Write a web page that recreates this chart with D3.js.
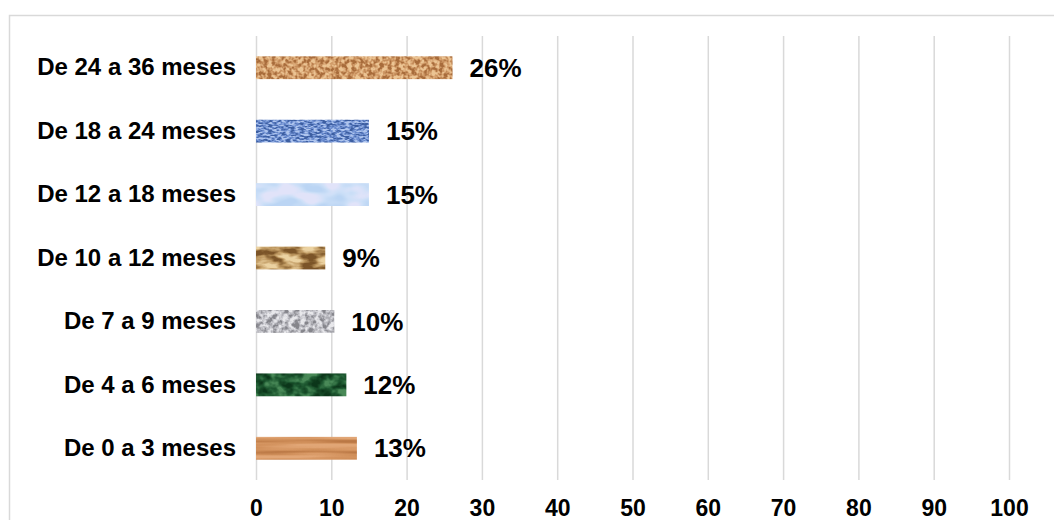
<!DOCTYPE html>
<html>
<head>
<meta charset="utf-8">
<script src="https://cdn.jsdelivr.net/npm/d3@7"></script>
<style>
    body { margin: 0; background: #fff; }
    svg { display: block; font-family: Arial, 'Liberation Sans', sans-serif; }
</style>
</head>
<body>
<svg id="chart"></svg>
<script>
// Data (top to bottom as drawn)
const categories = ['De 24 a 36 meses', 'De 18 a 24 meses', 'De 12 a 18 meses', 'De 10 a 12 meses',
    'De 7 a 9 meses', 'De 4 a 6 meses', 'De 0 a 3 meses'];
const values = [26.1, 15, 15, 9.2, 10.4, 12, 13.4];
const xTicks = [0, 10, 20, 30, 40, 50, 60, 70, 80, 90, 100];

// texture ramps for each bar: [dark, mid, light], noise frequency, octaves
const textures = [
    {ramp: ['#a86c3c', '#d19b68', '#ecc494'], freq: '0.25 0.25', oct: 3},
    {ramp: ['#3e5fa2', '#6f90d2', '#b0c6ee'], freq: '0.22 0.55', oct: 2},
    {ramp: ['#bcd6f4', '#cde0f8', '#e2e4fa'], freq: '0.04 0.08', oct: 2},
    {ramp: ['#7c5528', '#c09a62', '#ecd2a2'], freq: '0.05 0.12', oct: 3},
    {ramp: ['#85858c', '#bcbcc2', '#e8e8ec'], freq: '0.18 0.18', oct: 3},
    {ramp: ['#0c361a', '#1f5a32', '#4a8a58'], freq: '0.07 0.09', oct: 3},
    {ramp: ['#bb7845', '#d2915c', '#e2a676'], freq: '0.008 0.2', oct: 2}
];

const W = 1054, H = 520;
const svg = d3.select('#chart').attr('width', W).attr('height', H);

// chart frame
svg.append('rect')
    .attr('x', 9.5).attr('y', 15.5)
    .attr('width', 1100).attr('height', 600)
    .attr('fill', 'none')
    .attr('stroke', '#d9d9d9')
    .attr('stroke-width', 1.5);

const plot = {left: 256, right: 1009, top: 36, bottom: 480};

const x = d3.scaleLinear().domain([0, 100]).range([plot.left, plot.right]);
const y = d3.scaleBand().domain(categories)
    .range([plot.top, plot.bottom])
    .paddingInner(0.64).paddingOuter(0.32);

// texture filters
const defs = svg.append('defs');
textures.forEach((t, i) => {
    const f = defs.append('filter').attr('id', 'tex' + i)
        .attr('x', 0).attr('y', 0).attr('width', 1).attr('height', 1)
        .attr('color-interpolation-filters', 'sRGB');
    f.append('feTurbulence')
        .attr('type', 'fractalNoise')
        .attr('baseFrequency', t.freq)
        .attr('numOctaves', t.oct)
        .attr('seed', i * 7 + 3)
        .attr('result', 'noise');
    f.append('feColorMatrix')
        .attr('in', 'noise').attr('type', 'matrix')
        .attr('values', '1 0 0 0 0  1 0 0 0 0  1 0 0 0 0  0 0 0 0 1')
        .attr('result', 'gray');
    const ct = f.append('feComponentTransfer').attr('in', 'gray').attr('result', 'col');
    const cols = t.ramp.map(c => d3.rgb(c));
    ['R', 'G', 'B'].forEach((ch, k) => {
        const key = ['r', 'g', 'b'][k];
        const v = cols.map(c => (c[key] / 255).toFixed(3));
        ct.append('feFunc' + ch).attr('type', 'table')
            .attr('tableValues', [v[0], v[0], v[0], v[1], v[2], v[2], v[2]].join(' '));
    });
    f.append('feComposite').attr('in', 'col').attr('in2', 'SourceGraphic').attr('operator', 'in');
});

// x axis with gridlines
const xAxis = svg.append('g')
    .attr('transform', `translate(0,${plot.bottom})`)
    .call(d3.axisBottom(x).tickValues(xTicks)
        .tickSize(-(plot.bottom - plot.top))
        .tickPadding(20));
xAxis.select('.domain').remove();
xAxis.selectAll('line').attr('stroke', '#d9d9d9').attr('stroke-width', 1.5);
xAxis.selectAll('text')
    .attr('fill', '#000')
    .style('font-size', '23px')
    .style('font-weight', 'bold');

// y axis labels
const yAxis = svg.append('g')
    .attr('transform', `translate(${plot.left},0)`)
    .call(d3.axisLeft(y).tickSize(0).tickPadding(20));
yAxis.select('.domain').remove();
yAxis.selectAll('text')
    .attr('fill', '#000')
    .style('font-size', '24px')
    .style('font-weight', 'bold');

// bars
svg.selectAll('.bar')
    .data(values)
    .enter()
    .append('rect')
    .attr('class', 'bar')
    .attr('x', x(0))
    .attr('y', (d, i) => y(categories[i]))
    .attr('width', d => x(d) - x(0))
    .attr('height', y.bandwidth())
    .attr('fill', (d, i) => textures[i].ramp[1])
    .attr('filter', (d, i) => `url(#tex${i})`);

// value labels
svg.selectAll('.label')
    .data(values)
    .enter()
    .append('text')
    .attr('class', 'label')
    .attr('x', d => x(d) + 17)
    .attr('y', (d, i) => y(categories[i]) + y.bandwidth() / 2)
    .attr('dy', '0.35em')
    .style('font-size', '26px')
    .style('font-weight', 'bold')
    .attr('fill', '#000')
    .text(d => Math.round(d) + '%');
</script>
</body>
</html>
